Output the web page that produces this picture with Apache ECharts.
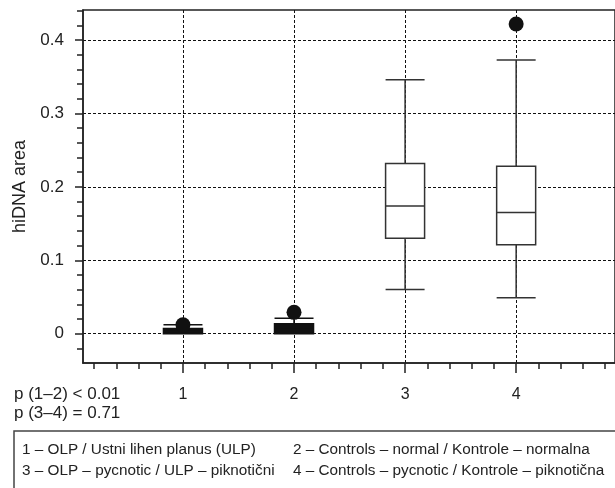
<!DOCTYPE html>
<html>
<head>
<meta charset="utf-8">
<script src="https://cdn.jsdelivr.net/npm/echarts@6/dist/echarts.min.js"></script>
<style>html,body{margin:0;padding:0;background:#fff;}#c{width:615px;height:488px;}</style>
</head>
<body>
<div id="c"></div>
<script>
const categories = [1, 2, 3, 4];
const boxMin    = [0.000, 0.000, 0.060, 0.049];
const boxQ1     = [0.000, 0.000, 0.130, 0.121];
const boxMedian = [0.003, 0.006, 0.174, 0.165];
const boxQ3     = [0.007, 0.0135, 0.232, 0.228];
const boxMax    = [0.012, 0.021, 0.346, 0.373];
const filledBox = [true, true, false, false];
const outlierX = [1, 2, 4];
const outlierY = [0.012, 0.029, 0.422];
const yTickLabels = [0, 0.1, 0.2, 0.3, 0.4];
const yMinorTicks = [-0.02, 0.02, 0.04, 0.06, 0.08, 0.12, 0.14, 0.16, 0.18, 0.22, 0.24, 0.26, 0.28, 0.32, 0.34, 0.36, 0.38, 0.42, 0.44];
const xMinorTicks = [0.2, 0.4, 0.6, 0.8, 1.2, 1.4, 1.6, 1.8, 2.2, 2.4, 2.6, 2.8, 3.2, 3.4, 3.6, 3.8, 4.2, 4.4, 4.6, 4.8];
const yName = 'hiDNA area';
const pTexts = ['p (1–2) < 0.01', 'p (3–4) = 0.71'];
const legendCol1 = ['1 – OLP / Ustni lihen planus (ULP)', '3 – OLP – pycnotic / ULP – piknotični'];
const legendCol2 = ['2 – Controls – normal / Kontrole – normalna', '4 – Controls – pycnotic / Kontrole – piknotična'];

const FONT = '"Liberation Sans", Arial, Helvetica, sans-serif';
const INK = '#222';
const X_MIN = 0.1, X_MAX = 4.89, Y_MIN = -0.04, Y_MAX = 0.441;

const boxData = categories.map((c, i) => {
  const item = { value: [c, boxMin[i], boxQ1[i], boxMedian[i], boxQ3[i], boxMax[i]] };
  if (filledBox[i]) item.itemStyle = { color: '#111', borderColor: '#111' };
  return item;
});
const outData = outlierX.map((x, i) => [x, outlierY[i]]);

const chart = echarts.init(document.getElementById('c'), null, { renderer: 'canvas' });
const dotted = { type: [3, 2], color: '#111', width: 1 };
chart.setOption({
  animation: false,
  backgroundColor: '#fff',
  grid: { left: 83, top: 10, right: -3, bottom: 125, show: true, borderColor: INK, borderWidth: 1.5, backgroundColor: 'transparent' },
  xAxis: [
    {
      type: 'value', min: X_MIN, max: X_MAX, position: 'bottom',
      axisLine: { show: true, onZero: false, lineStyle: { color: INK, width: 1.5 } },
      axisTick: { show: true, customValues: categories, length: 10, lineStyle: { color: INK, width: 1.5 } },
      axisLabel: { show: true, customValues: categories, fontFamily: FONT, fontSize: 16, color: INK, margin: 24 },
      splitLine: { show: true, lineStyle: dotted }
    },
    {
      type: 'value', min: X_MIN, max: X_MAX, position: 'bottom',
      axisLine: { show: false, onZero: false },
      axisTick: { show: true, customValues: xMinorTicks, length: 6, lineStyle: { color: INK, width: 1.5 } },
      axisLabel: { show: false },
      splitLine: { show: false }
    }
  ],
  yAxis: [
    {
      type: 'value', min: Y_MIN, max: Y_MAX, position: 'left',
      name: yName, nameLocation: 'middle', nameGap: 52, nameRotate: 90,
      nameTextStyle: { fontFamily: FONT, fontSize: 18, color: INK },
      axisLine: { show: true, onZero: false, lineStyle: { color: INK, width: 1.5 } },
      axisTick: { show: true, customValues: yTickLabels, length: 8, lineStyle: { color: INK, width: 1.5 } },
      axisLabel: { show: true, customValues: yTickLabels, fontFamily: FONT, fontSize: 17, color: INK, margin: 19 },
      splitLine: { show: true, lineStyle: dotted }
    },
    {
      type: 'value', min: Y_MIN, max: Y_MAX, position: 'left',
      axisLine: { show: false, onZero: false },
      axisTick: { show: true, customValues: yMinorTicks, length: 6, lineStyle: { color: INK, width: 1.5 } },
      axisLabel: { show: false },
      splitLine: { show: false }
    }
  ],
  series: [
    {
      type: 'boxplot', xAxisIndex: 0, yAxisIndex: 0,
      boxWidth: [39, 39],
      itemStyle: { color: '#fff', borderColor: '#333', borderWidth: 1.5 },
      emphasis: { disabled: true },
      data: boxData
    },
    {
      type: 'scatter', xAxisIndex: 0, yAxisIndex: 0,
      symbol: 'circle', symbolSize: 15,
      itemStyle: { color: '#111', opacity: 1 },
      emphasis: { disabled: true },
      data: outData, z: 5
    }
  ],
  graphic: [
    { type: 'text', left: 14, top: 386, style: { text: pTexts[0], font: '17px ' + FONT, fill: INK } },
    { type: 'text', left: 14, top: 405, style: { text: pTexts[1], font: '17px ' + FONT, fill: INK } },
    { type: 'rect', shape: { x: 14, y: 431, width: 700, height: 100 }, style: { fill: 'none', stroke: '#444', lineWidth: 1.5 } },
    { type: 'text', left: 22, top: 442, style: { text: legendCol1[0], font: '15.3px ' + FONT, fill: INK } },
    { type: 'text', left: 22, top: 463, style: { text: legendCol1[1], font: '15.3px ' + FONT, fill: INK } },
    { type: 'text', left: 293, top: 442, style: { text: legendCol2[0], font: '15.3px ' + FONT, fill: INK } },
    { type: 'text', left: 293, top: 463, style: { text: legendCol2[1], font: '15.3px ' + FONT, fill: INK } }
  ]
});
</script>
</body>
</html>
